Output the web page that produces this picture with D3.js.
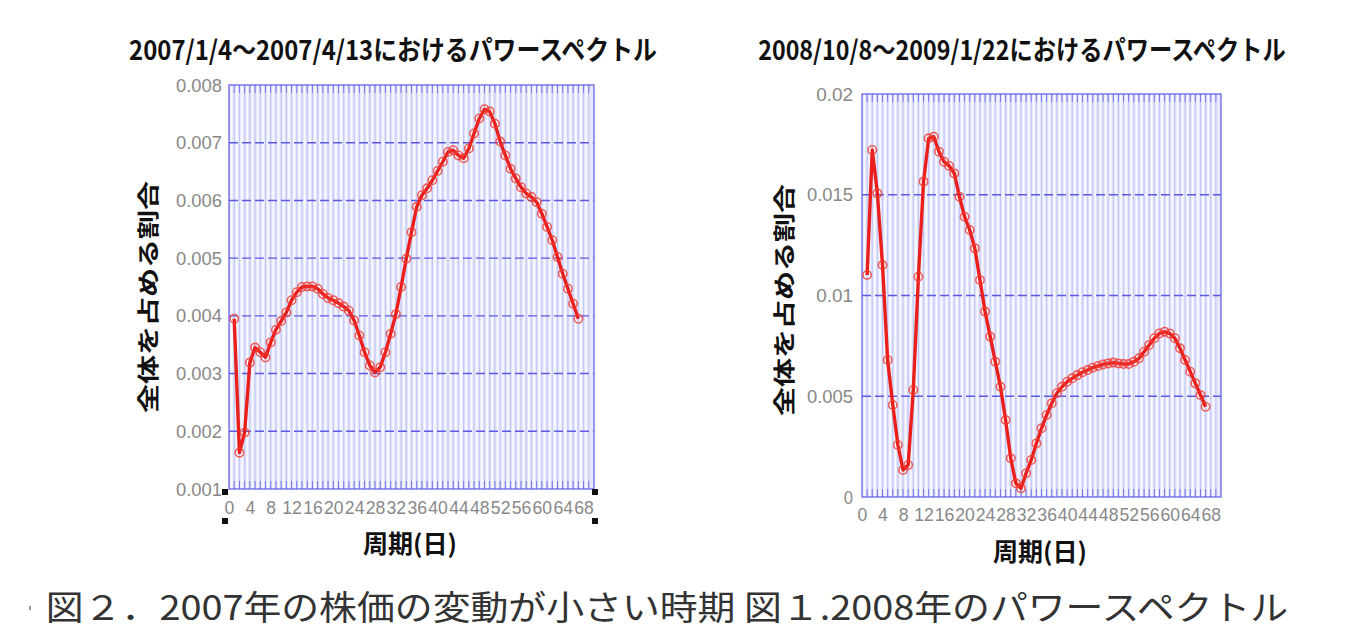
<!DOCTYPE html>
<html><head><meta charset="utf-8">
<script src="https://cdn.jsdelivr.net/npm/d3@7"></script>
<style>html,body{margin:0;padding:0;background:#fff;}svg{display:block;}</style>
</head><body>
<svg id="c" width="1354" height="628"></svg>
<script>
// ---- data ----
const periods = d3.range(1, 68); // 周期 1..67 日
const power2007 = [0.00395,0.00163,0.00198,0.00319,0.00345,0.00337,0.00328,0.00354,0.00376,0.00391,
0.00406,0.00427,0.00441,0.0045,0.00451,0.00451,0.00447,0.00438,0.00431,0.00427,
0.00422,0.00416,0.00409,0.00392,0.00366,0.00337,0.00314,0.00302,0.00311,0.00337,
0.00369,0.00403,0.0045,0.00499,0.00545,0.00589,0.00609,0.00621,0.00635,0.00651,
0.00667,0.00684,0.00687,0.00678,0.00673,0.0069,0.00716,0.00742,0.00758,0.00754,
0.00733,0.00702,0.00678,0.00655,0.00638,0.00623,0.00612,0.00606,0.00597,0.00577,
0.00554,0.00531,0.00502,0.00473,0.00447,0.00421,0.00395];
const power2008 = [0.01102,0.01722,0.01507,0.01151,0.0068,0.00457,0.00258,0.00134,0.00159,0.00531,
0.01093,0.01565,0.0178,0.01788,0.01714,0.01664,0.01643,0.01606,0.0149,0.01391,
0.01325,0.01234,0.01077,0.0092,0.00796,0.00671,0.00547,0.00382,0.00192,0.00068,
0.00043,0.00118,0.00184,0.00266,0.00341,0.00407,0.00465,0.00515,0.00547,0.00572,
0.00589,0.00605,0.00619,0.0063,0.00642,0.0065,0.00658,0.00663,0.00667,0.00663,
0.0066,0.0066,0.00671,0.00688,0.00721,0.00754,0.00788,0.00812,0.0082,0.00812,
0.00788,0.00738,0.0068,0.00622,0.00564,0.00506,0.00448];
const xTicks = d3.range(0, 69, 4);
const yTicks2007 = [0.001,0.002,0.003,0.004,0.005,0.006,0.007,0.008];
const yTickLabels2007 = ["0.001","0.002","0.003","0.004","0.005","0.006","0.007","0.008"];
const yTicks2008 = [0,0.005,0.01,0.015,0.02];
const yTickLabels2008 = ["0","0.005","0.01","0.015","0.02"];
const title2007 = "2007/1/4～2007/4/13におけるパワースペクトル";
const title2008 = "2008/10/8～2009/1/22におけるパワースペクトル";
const yTitle = "全体を占める割合";
const xTitle = "周期(日)";
const caption = "図２．2007年の株価の変動が小さい時期 図１.2008年のパワースペクトル";

const svg = d3.select("#c");
svg.append("rect").attr("width",1354).attr("height",628).attr("fill","#fff");
const JP = "'Noto Sans CJK JP','Noto Sans',sans-serif";
const NUM = "'Liberation Sans','DejaVu Sans',sans-serif";

// text squeezed horizontally to a target width via a scale transform
function fitText(cx, y, str, size, weight, fill, targetW){
  const g = svg.append("g");
  const t = g.append("text").attr("x",0).attr("y",0).attr("text-anchor","middle")
    .attr("font-family",JP).attr("font-weight",weight).attr("font-size",size).attr("fill",fill).text(str);
  const w = t.node().getComputedTextLength();
  const s = targetW / w;
  g.attr("transform",`translate(${cx},${y}) scale(${s},1)`);
  return t;
}

function chart(o){
  const x = d3.scaleLinear().domain([0,70]).range([o.x0,o.x1]);
  const y = d3.scaleLinear().domain(o.yDomain).range([o.y1,o.y0]);
  const g = svg.append("g");
  g.append("rect").attr("x",o.x0).attr("y",o.y0).attr("width",o.x1-o.x0).attr("height",o.y1-o.y0)
    .attr("fill","#e6e8fb");
  const units = d3.range(1,70);
  g.append("g").selectAll("line").data(units).join("line")
    .attr("x1",d=>x(d-0.5)).attr("x2",d=>x(d-0.5)).attr("y1",o.y0).attr("y2",o.y1)
    .attr("stroke","#fbfbff").attr("stroke-width",1.5);
  g.append("g").selectAll("line").data(units).join("line")
    .attr("x1",d=>x(d)).attr("x2",d=>x(d)).attr("y1",o.y0).attr("y2",o.y1)
    .attr("stroke","#c4c8f5").attr("stroke-width",1.2);
  const tk = g.append("g");
  tk.selectAll("line.b").data(units).join("line").attr("class","b")
    .attr("x1",d=>x(d)).attr("x2",d=>x(d)).attr("y1",o.y1).attr("y2",o.y1-8)
    .attr("stroke","#7676ea").attr("stroke-width",1);
  tk.selectAll("line.t").data(units).join("line").attr("class","t")
    .attr("x1",d=>x(d)).attr("x2",d=>x(d)).attr("y1",o.y0).attr("y2",o.y0+8)
    .attr("stroke","#7676ea").attr("stroke-width",1);
  const inner = o.yTicks.filter(v=>v>o.yDomain[0] && v<o.yDomain[1]);
  g.append("g").selectAll("line").data(inner).join("line")
    .attr("x1",o.x0).attr("x2",o.x1).attr("y1",d=>y(d)).attr("y2",d=>y(d))
    .attr("stroke","#5a5ae4").attr("stroke-width",1.4).attr("stroke-dasharray","9,4");
  g.append("rect").attr("x",o.x0).attr("y",o.y0).attr("width",o.x1-o.x0).attr("height",o.y1-o.y0)
    .attr("fill","none").attr("stroke","#6464ea").attr("stroke-width",1.3);
  const ya = d3.axisLeft(y).tickValues(o.yTicks).tickFormat((d,i)=>o.yLabels[i]).tickSize(0).tickPadding(0);
  const yg = g.append("g").attr("transform",`translate(${o.ylx},0)`).call(ya);
  yg.select(".domain").remove();
  yg.selectAll("text").attr("font-family",NUM).attr("font-size",19).attr("fill","#888")
    .attr("textLength",function(){return this.textContent.length*9.2;}).attr("lengthAdjust","spacingAndGlyphs");
  const xa = d3.axisBottom(x).tickValues(xTicks).tickFormat(d3.format("d")).tickSize(0).tickPadding(0);
  const xg = g.append("g").attr("transform",`translate(0,${o.xly})`).call(xa);
  xg.select(".domain").remove();
  xg.selectAll("text").attr("font-family",NUM).attr("font-size",19).attr("fill","#888")
    .attr("textLength",function(){return this.textContent.length*9.8;}).attr("lengthAdjust","spacingAndGlyphs");
  const pts = periods.map((p,i)=>[p,o.values[i]]);
  g.append("path").datum(pts).attr("fill","none").attr("stroke","#ea1e1a").attr("stroke-width",3.4)
    .attr("stroke-linejoin","round")
    .attr("d",d3.line().x(d=>x(d[0])).y(d=>y(d[1])));
  g.append("g").selectAll("circle").data(pts).join("circle")
    .attr("cx",d=>x(d[0])).attr("cy",d=>y(d[1])).attr("r",4.2)
    .attr("fill","none").attr("stroke","#f03a30").attr("stroke-width",1.6).attr("opacity",0.8);
  // titles
  fitText(o.tx, o.ty, o.title, 27, 700, "#111", o.tlen);
  svg.append("text").attr("transform",`translate(${o.ytx},${o.yty}) rotate(-90)`).attr("text-anchor","middle")
    .attr("font-family",JP).attr("font-weight",700).attr("font-size",22).attr("fill","#111")
    .attr("textLength",232).attr("lengthAdjust","spacingAndGlyphs").text(yTitle);
  fitText(o.xtx, o.xty, xTitle, 25, 700, "#111", 94);
}

chart({x0:229,x1:594,y0:85,y1:489,yDomain:[0.001,0.008],yTicks:yTicks2007,yLabels:yTickLabels2007,
  values:power2007,ylx:222,xly:500,title:title2007,tx:393,ty:60,tlen:528,ytx:156,yty:297,xtx:410,xty:553});
chart({x0:862,x1:1221,y0:94,y1:497,yDomain:[0,0.02],yTicks:yTicks2008,yLabels:yTickLabels2008,
  values:power2008,ylx:853,xly:507,title:title2008,tx:1022,ty:60,tlen:528,ytx:792,yty:300,xtx:1040,xty:561});

[[225,492],[595,492],[225,521],[595,521]].forEach(p=>{
  svg.append("rect").attr("x",p[0]-3).attr("y",p[1]-3).attr("width",6).attr("height",6).attr("fill","#111");
});
svg.append("rect").attr("x",29).attr("y",606).attr("width",2).attr("height",4).attr("fill","#999");
fitText(667, 620, caption, 34, 400, "#333", 1243);
</script>
</body></html>
